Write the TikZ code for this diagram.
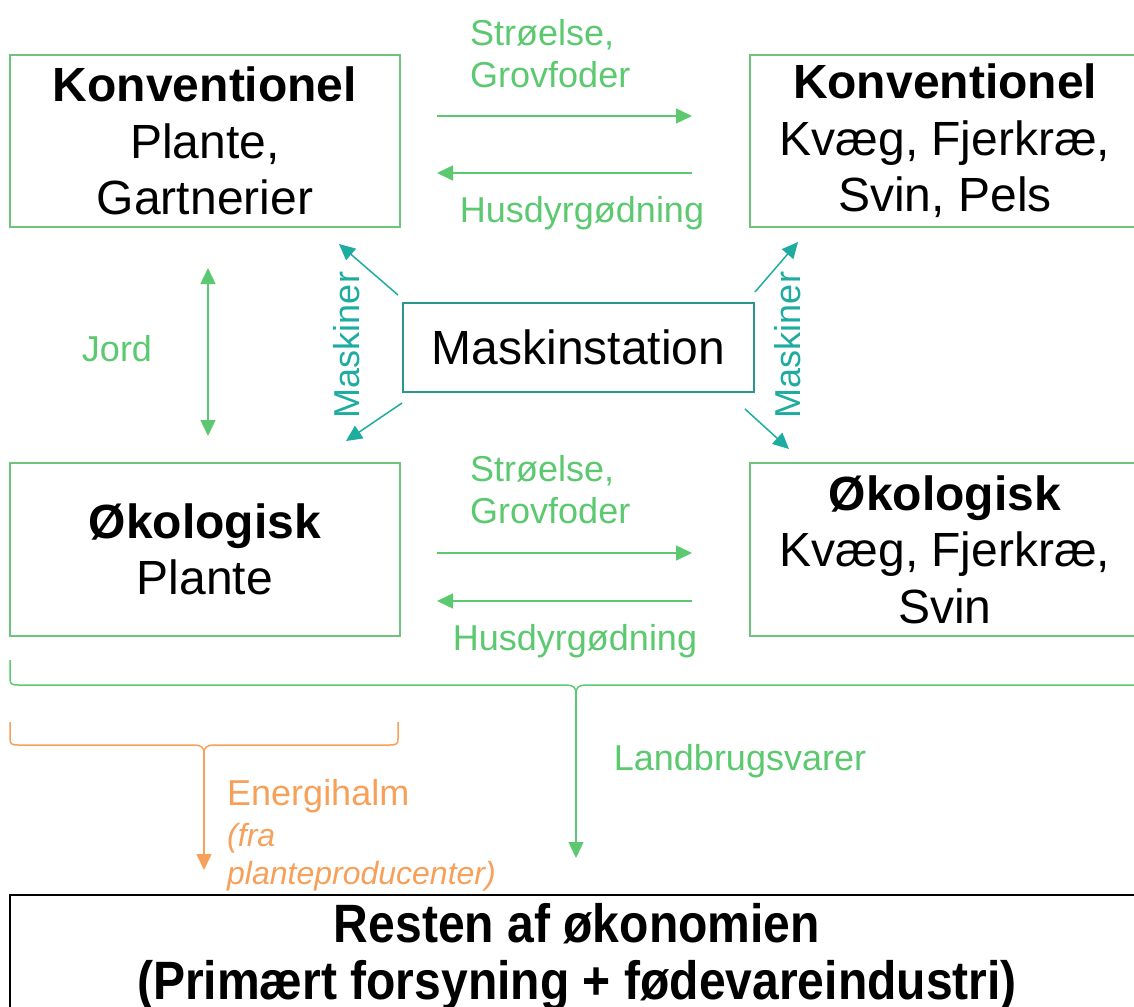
\documentclass[tikz,border=0pt]{standalone}
\usepackage{fontspec}
\setmainfont{Liberation Sans}
\usetikzlibrary{arrows.meta}
\definecolor{lgreen}{RGB}{92,201,112}
\definecolor{bgreen}{RGB}{110,196,125}
\definecolor{tealarr}{RGB}{30,172,160}
\definecolor{tealbox}{RGB}{40,152,142}
\definecolor{orng}{RGB}{246,160,90}
\begin{document}
\begin{tikzpicture}[x=1pt,y=-1pt,
  box/.style={draw=bgreen, line width=2.5pt, minimum width=390pt, minimum height=172pt,
    align=center, inner sep=0pt, font=\fontsize{48}{56.5}\selectfont},
  flow/.style={lgreen, line width=1.5pt, -{Triangle[length=16pt,width=15pt]}},
  mflow/.style={tealarr, line width=1.5pt, -{Triangle[length=16pt,width=15pt]}},
  oflow/.style={orng, line width=1.5pt, -{Triangle[length=16pt,width=15pt]}},
  glabel/.style={lgreen, inner sep=0pt, font=\fontsize{36}{42}\selectfont},
  mlabel/.style={tealarr, inner sep=0pt, rotate=90, font=\fontsize{36}{42}\selectfont},
]
\useasboundingbox (0,0) rectangle (1134,1006);
\clip (0,0) rectangle (1134,1006);

% boxes
\node[box] (kp) at (205,141) {\textbf{Konventionel}\\Plante,\\Gartnerier};
\node[box] (kd) at (945,141) {\textbf{Konventionel}\\Kvæg, Fjerkræ,\\Svin, Pels};
\node[box, minimum height=173pt] (op) at (205,549.5) {\textbf{Økologisk}\\Plante};
\node[box, minimum height=173pt] (od) at (945,549.5) {\textbf{Økologisk}\\Kvæg, Fjerkræ,\\Svin};
\node[draw=tealbox, line width=2.5pt, minimum width=351pt, minimum height=89pt, inner sep=0pt,
  font=\fontsize{48}{56}\selectfont] (ms) at (578.5,347.5) {Maskinstation};
\node[draw=black, line width=2.5pt, minimum width=1134pt, minimum height=125pt, inner sep=0pt,
  align=center, font=\fontsize{54}{57}\selectfont\bfseries] (rest) at (577,957.5)
  {\scalebox{0.89}[1]{Resten af økonomien}\\\scalebox{0.89}[1]{(Primært forsyning + fødevareindustri)}};

% coordinates for floating arrow ends
\coordinate (t1s) at (437,116); \coordinate (t1e) at (692,116);
\coordinate (t2s) at (692,173); \coordinate (t2e) at (437,173);
\coordinate (b1s) at (437,553); \coordinate (b1e) at (692,553);
\coordinate (b2s) at (692,601); \coordinate (b2e) at (437,601);
\coordinate (js) at (208,268); \coordinate (je) at (208,436);
\coordinate (m1s) at (398,295); \coordinate (m1e) at (339,244);
\coordinate (m2s) at (402,403); \coordinate (m2e) at (346,441);
\coordinate (m3s) at (755,292); \coordinate (m3e) at (798,242);
\coordinate (m4s) at (745,409); \coordinate (m4e) at (789,449);

% green flows between boxes
\draw[flow] (t1s) -- (t1e);
\draw[flow] (t2s) -- (t2e);
\draw[flow] (b1s) -- (b1e);
\draw[flow] (b2s) -- (b2e);
\draw[flow, {Triangle[length=16pt,width=15pt]}-{Triangle[length=16pt,width=15pt]}] (js) -- (je);

% maskiner arrows
\draw[mflow] (m1s) -- (m1e);
\draw[mflow] (m2s) -- (m2e);
\draw[mflow] (m3s) -- (m3e);
\draw[mflow] (m4s) -- (m4e);

% labels
\node[glabel, anchor=west, align=left] (lab1) at (470,54) {Strøelse,\\Grovfoder};
\node[glabel] (lab2) at (582,213) {Husdyrgødning};
\node[glabel, anchor=west, align=left] (lab3) at (470,490) {Strøelse,\\Grovfoder};
\node[glabel] (lab4) at (575,641) {Husdyrgødning};
\node[glabel] (lab5) at (117,349) {Jord};
\node[mlabel] (lab6) at (347,345) {Maskiner};
\node[mlabel] (lab7) at (788,345) {Maskiner};
\node[glabel] (lab8) at (740,761) {Landbrugsvarer};
\node[orng, inner sep=0pt, anchor=west, font=\fontsize{36}{42}\selectfont] (lab9) at (227,796) {Energihalm};
\node[orng, inner sep=0pt, anchor=north west, align=left, font=\fontsize{32}{38}\selectfont\itshape] (lab10) at (227,823) {(fra\\planteproducenter)};

% green bracket
\coordinate (gcusp) at (576,694);
\coordinate (gtip) at (576,858);
\draw[lgreen, line width=1.5pt] (10,660) -- (10,679) .. controls (10,684) and (12,685) .. (18,685)
  -- (566,685) .. controls (573,685) and (576,687) .. (gcusp);
\draw[lgreen, line width=1.5pt] (1140,685) -- (586,685) .. controls (579,685) and (576,687) .. (gcusp);
\draw[flow] (gcusp) -- (gtip);

% orange bracket
\coordinate (ocusp) at (204,754);
\coordinate (otip) at (204,870);
\draw[orng, line width=1.5pt] (10,722) -- (10,739) .. controls (10,744) and (12,745) .. (18,745)
  -- (194,745) .. controls (201,745) and (204,747) .. (ocusp);
\draw[orng, line width=1.5pt] (398,722) -- (398,739) .. controls (398,744) and (396,745) .. (390,745)
  -- (214,745) .. controls (207,745) and (204,747) .. (ocusp);
\draw[oflow] (ocusp) -- (otip);
\end{tikzpicture}
\end{document}
